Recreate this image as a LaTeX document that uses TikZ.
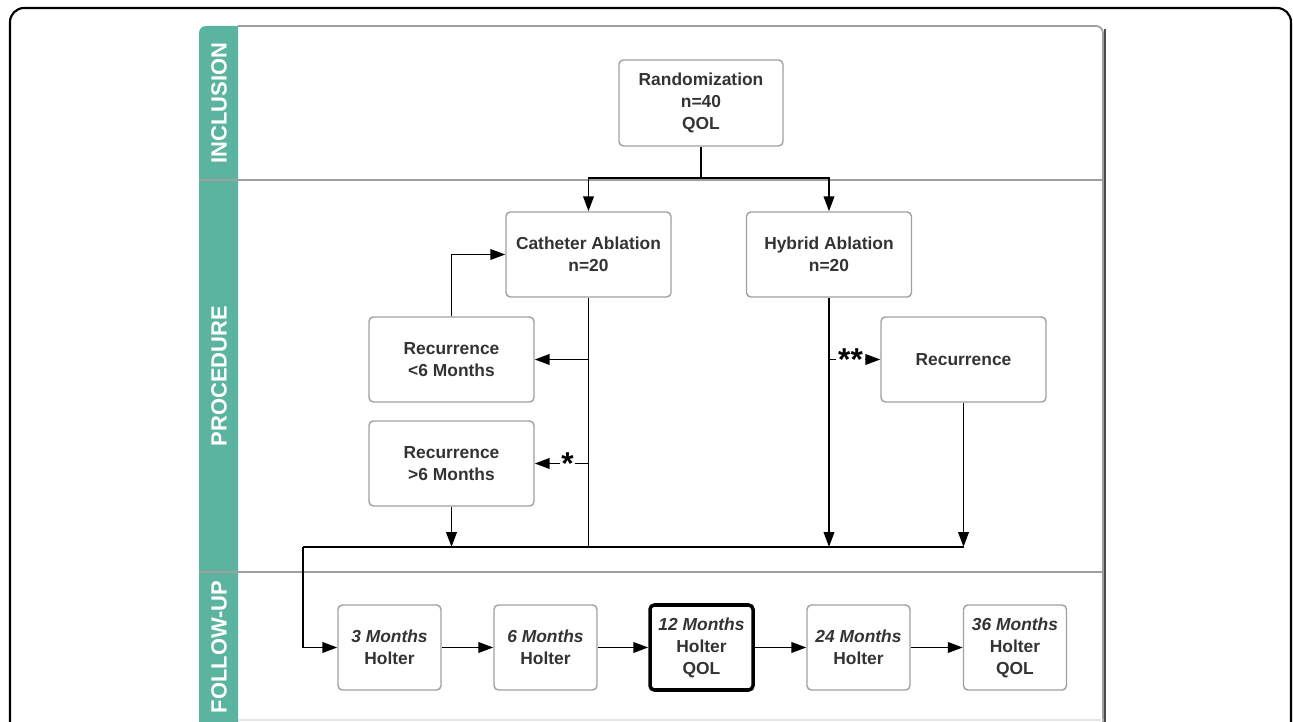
\documentclass[tikz,border=0pt]{standalone}
\usepackage{fontspec}
\setmainfont{Liberation Sans}
\usetikzlibrary{arrows.meta, positioning, calc}
\definecolor{laneteal}{RGB}{90,180,160}
\definecolor{boxtext}{RGB}{51,51,51}
\definecolor{boxline}{RGB}{160,160,160}

\begin{document}
\begin{tikzpicture}[
  box/.style={rectangle,draw=boxline,line width=0.8pt,rounded corners=2.5pt, minimum width=3.3cm,minimum height=1.7cm,align=center,text=boxtext,font=\bfseries\fontsize{9.9}{12.5}\selectfont},
  fu/.style={box, minimum width=2.06cm},
  key/.style={fu, draw=black, line width=2pt},
  arr/.style={-{Triangle[length=8.5pt,width=6pt]}, line width=1.1pt},
  ln/.style={line width=1.1pt},
  lane/.style={rotate=90, text=white, font=\bfseries\fontsize{12.5}{14}\selectfont},
  note/.style={fill=white, inner xsep=1pt, inner ysep=0.5pt, font=\bfseries\fontsize{18}{20}\selectfont}
]
  \useasboundingbox (0,0) rectangle (25.86,14.44);
  % frame and lanes
  \draw[line width=1.2pt, rounded corners=8pt] (0.2,-0.2) -- (0.2,14.28) -- (25.82,14.28) -- (25.82,-0.2);
  \fill[laneteal] (3.98,0) [rounded corners=4pt] -- (3.98,13.92) [sharp corners] -- (4.76,13.92) -- (4.76,0) -- cycle;
  \draw[black!70, line width=0.8pt] (22.1,13.85) -- (22.1,0);
  \draw[boxline, line width=1pt] (4.76,13.92) [rounded corners=4pt] -- (22.06,13.92) [sharp corners] -- (22.06,0);
  \draw[boxline, line width=1pt] (3.98,10.84) -- (22.06,10.84);
  \draw[boxline, line width=1pt] (3.98,3.0) -- (22.06,3.0);
  \draw[black!10, line width=0.6pt] (4.76,0.04) -- (22.06,0.04);
  \node[lane] (inc)  at (4.38,12.38) {INCLUSION};
  \node[lane] (proc) at (4.38,6.92)  {PROCEDURE};
  \node[lane] (fol)  at (4.38,1.5)   {FOLLOW-UP};

  \node[box, minimum width=3.28cm, minimum height=1.72cm] (rand) at (14.02,12.38) {Randomization\\n=40\\QOL};
  \node[box] (cath) at (11.77,9.35) {Catheter Ablation\\n=20};
  \node[box] (hyb)  at (16.58,9.35) {Hybrid Ablation\\n=20};
  \node[box] (rec1) at (9.03,7.25)  {Recurrence\\<6 Months};
  \node[box] (rec2) at (9.03,5.17)  {Recurrence\\>6 Months};
  \node[box] (rec3) at (19.27,7.25) {Recurrence};

  \node[fu]  (m3)  at (7.79,1.49)  {\textit{3 Months}\\Holter};
  \node[fu]  (m6)  at (10.91,1.49) {\textit{6 Months}\\Holter};
  \node[key] (m12) at (14.03,1.49) {\textit{12 Months}\\Holter\\QOL};
  \node[fu]  (m24) at (17.17,1.49) {\textit{24 Months}\\Holter};
  \node[fu]  (m36) at (20.30,1.49) {\textit{36 Months}\\Holter\\QOL};

  \coordinate (split) at (14.02,10.88);
  \coordinate (bus) at (6.06,3.5);
  \draw[ln] (rand.south) -- (split);
  \draw[arr] (split) -| (cath.north);
  \draw[arr] (split) -| (hyb.north);
  \draw[ln] (cath.south) -- (cath.south |- bus);
  \draw[arr] (cath.south |- rec1) -- (rec1.east);
  \draw[arr] (cath.south |- rec2) -- node[note, pos=0.39] {*} (rec2.east);
  \draw[arr] (rec1.north) |- (cath.west);
  \draw[arr] (rec2.south) -- (rec2.south |- bus);
  \draw[arr] (hyb.south) -- (hyb.south |- bus);
  \draw[arr] (hyb.south |- rec3) -- node[note, pos=0.42] {**} (rec3.west);
  \draw[arr] (rec3.south) -- (rec3.south |- bus);
  \draw[ln] (bus) -- (rec3.south |- bus);
  \draw[arr] (bus) |- (m3.west);
  \draw[arr] (m3) -- (m6);
  \draw[arr] (m6) -- (m12);
  \draw[arr] (m12) -- (m24);
  \draw[arr] (m24) -- (m36);
\end{tikzpicture}
\end{document}
